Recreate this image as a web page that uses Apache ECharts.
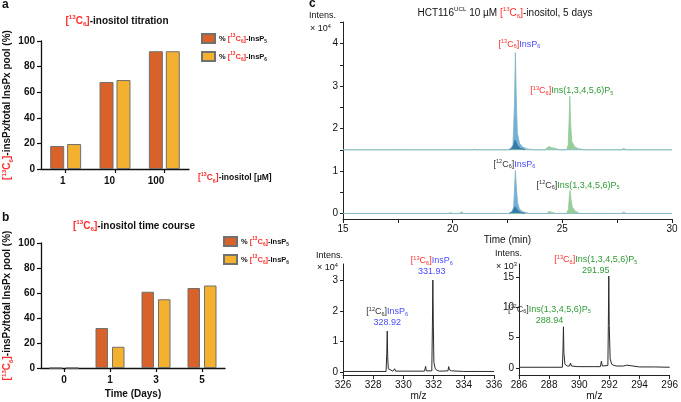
<!DOCTYPE html>
<html><head><meta charset="utf-8">
<script src="https://cdn.jsdelivr.net/npm/echarts@6/dist/echarts.min.js"></script>
<style>html,body{margin:0;padding:0;background:#fff}#c{width:681px;height:402px}</style>
</head><body><div id="c"></div>
<script>
// ---------- data ----------
const A_CATS = ['1', '10', '100'];
const A_P5 = [18, 68, 92];
const A_P6 = [19.5, 69.5, 92];
const B_CATS = ['0', '1', '3', '5'];
const B_P5 = [0, 32, 61, 64];
const B_P6 = [0, 17, 55, 66];

// chromatogram (x10^4), upper trace sits on offset baseline 1.5
const TOP_X_LABELS = [15, 20, 25, 30];
const TOP_X_TICKS = [15, 17.5, 20, 22.5, 25, 27.5, 30];
const TOP_Y_LABELS = [0, 1, 2, 3, 4];
const TOP_Y_TICKS = [0, 0.5, 1, 1.5, 2, 2.5, 3, 3.5, 4, 4.5];
const UP_P5 = [[15,1.5],[17.5,1.5],[17.6,1.51],[17.7,1.5],[24.2,1.5],[24.3,1.54],[24.4,1.58],[24.5,1.55],[24.7,1.53],[24.9,1.5],[25.2,1.5],[25.27,1.62],[25.31,2.2],[25.34,2.76],[25.38,2.1],[25.43,1.7],[25.55,1.58],[25.7,1.53],[26.0,1.5],[30,1.5]];
const UP_P6 = [[15,1.5],[20.9,1.5],[21.0,1.51],[21.1,1.5],[22.5,1.5],[22.65,1.53],[22.75,1.62],[22.82,2.6],[22.86,3.79],[22.9,2.7],[22.95,1.9],[23.05,1.65],[23.2,1.56],[23.4,1.52],[23.7,1.5],[27.7,1.5],[27.8,1.53],[27.9,1.5],[30,1.5]];
const UP_P6_INNER = [[22.6,1.5],[22.75,1.56],[22.85,1.73],[22.95,1.6],[23.1,1.53],[23.3,1.5]];
const LO_P5 = [[15,0],[19.8,0],[19.9,0.02],[20.0,0],[20.3,0],[20.4,0.04],[20.5,0],[24.3,0],[24.4,0.05],[24.5,0.03],[24.7,0],[25.2,0],[25.28,0.1],[25.32,0.4],[25.35,0.54],[25.39,0.35],[25.45,0.15],[25.6,0.05],[25.8,0],[30,0]];
const LO_P6 = [[15,0],[22.55,0],[22.7,0.04],[22.78,0.15],[22.83,0.7],[22.86,1.01],[22.9,0.65],[22.96,0.25],[23.05,0.1],[23.2,0.04],[23.5,0],[27.7,0],[27.8,0.03],[27.9,0],[30,0]];
const LO_P6_INNER = [[22.6,0],[22.75,0.06],[22.85,0.16],[22.95,0.08],[23.1,0.02],[23.3,0]];

// mass spectra
const MS6_X_LABELS = ['326', '328', '330', '332', '334', '336'];
const MS6_Y_LABELS = [0, 1, 2, 3];
const MS6 = [[326,0.01],[327,0.01],[328,0.01],[328.85,0.01],[328.9,0.6],[328.93,1.34],[328.96,0.5],[329.0,0.1],[329.1,0.04],[329.3,0.02],[329.42,0.1],[329.48,0.02],[329.9,0.02],[329.95,0.07],[330.0,0.02],[331.4,0.02],[331.47,0.18],[331.52,0.03],[331.88,0.03],[331.92,1.5],[331.95,3.02],[331.98,1.6],[332.02,0.3],[332.1,0.12],[332.2,0.05],[332.4,0.02],[332.95,0.03],[333.0,0.17],[333.05,0.06],[333.2,0.03],[334,0.01],[335,0.01],[336,0.01]];
const MS5_X_LABELS = ['286', '288', '390', '292', '294', '296'];
const MS5_Y_LABELS = [0, 5, 10, 15];
const MS5 = [[286,0.1],[288,0.1],[288.88,0.1],[288.92,3],[288.95,6.8],[288.98,2.5],[289.05,0.6],[289.2,0.3],[289.35,0.3],[289.42,0.8],[289.48,0.3],[289.9,0.2],[289.98,0.4],[290.05,0.2],[290.85,0.2],[290.92,0.5],[291.0,0.2],[291.4,0.2],[291.47,1.1],[291.53,0.3],[291.9,0.4],[291.93,7],[291.96,15.2],[291.99,7],[292.05,1.5],[292.15,0.6],[292.3,0.4],[292.5,0.3],[292.95,0.3],[293.0,0.6],[293.08,0.3],[293.15,0.45],[293.22,0.25],[294,0.15],[295,0.15],[295.05,0.25],[295.1,0.15],[296,0.1]];

// ---------- styling ----------
const FONT = "'Liberation Sans', Arial, Helvetica, sans-serif";
const RED = '#ff2d2d', BLUE = '#4a4cff', GREEN = '#2f9a36', INK = '#111', GRAY12 = '#333';
const ORANGE = '#d9612a', YELLOW = '#f4b12f';

function mkRich(size, weight, lh) {
  const s = Math.round(size * 0.62 * 10) / 10;
  const cols = {k: INK, r: RED, b: BLUE, g: GREEN, m: GRAY12};
  const o = {};
  const L = lh || size + 3;
  for (const k in cols) {
    const c = cols[k];
    o[k] = {color: c, fill: c, fontSize: size, fontWeight: weight, fontFamily: FONT, lineHeight: L};
    o[k + 'p'] = {color: c, fill: c, fontSize: s, fontWeight: weight, fontFamily: FONT, lineHeight: s + 1, verticalAlign: 'top'};
    o[k + 'd'] = {color: c, fill: c, fontSize: s, fontWeight: weight, fontFamily: FONT, lineHeight: s + 1, verticalAlign: 'bottom'};
  }
  return o;
}
const C13 = '{r|[}{rp|13}{r|C}{rd|6}{r|]}';
const C12 = '{m|[}{mp|12}{m|C}{md|6}{m|]}';
const P6 = '{b|InsP}{bd|6}';
const P5 = '{g|Ins(1,3,4,5,6)P}{gd|5}';

const R10B = mkRich(10, 'bold');
const R85B = mkRich(8.5, 'bold');
const R75B = mkRich(7.5, 'bold');
const R10 = mkRich(10, 'normal');
const R9 = mkRich(9, 'normal', 11);

function barAxisX(idx, cats, align) {
  return {gridIndex: idx, type: 'category', data: cats,
    axisLine: {show: true, lineStyle: {color: '#111', width: 1.3}},
    axisTick: {show: true, alignWithLabel: true, length: 4, lineStyle: {color: '#111', width: 1.2}},
    axisLabel: {margin: 7, fontFamily: FONT, fontSize: 10, fontWeight: 'bold', color: INK, align: align}};
}
function barAxisY(idx) {
  return {gridIndex: idx, type: 'value', min: 0, max: 100, interval: 20,
    name: C13 + '{k|-insPx/total InsPx pool (%)}', nameLocation: 'middle', nameGap: 27,
    nameTextStyle: {rich: R10B},
    splitLine: {show: false},
    axisLine: {show: true, lineStyle: {color: '#111', width: 1.3}},
    axisTick: {show: true, length: 4, lineStyle: {color: '#111', width: 1.2}},
    axisLabel: {margin: 6, fontFamily: FONT, fontSize: 10, fontWeight: 'bold', color: INK}};
}
const thin = {color: '#222', width: 1};
function specX(idx, min, max, labels, name, gap) {
  return {gridIndex: idx, type: 'value', min: min, max: max, interval: 2,
    name: name, nameLocation: 'middle', nameGap: gap,
    nameTextStyle: {fontFamily: FONT, fontSize: 10, color: INK},
    splitLine: {show: false},
    axisLine: {show: true, onZero: false, lineStyle: thin},
    axisTick: {show: true, length: 4, lineStyle: thin},
    axisLabel: {margin: 5, fontFamily: FONT, fontSize: 10, color: INK,
      formatter: v => labels[Math.round((v - min) / 2)]}};
}
function specY(idx, min, max, labels, ticks) {
  return {gridIndex: idx, type: 'value', min: min, max: max,
    splitLine: {show: false},
    axisLine: {show: true, onZero: false, lineStyle: thin},
    axisTick: {show: true, length: 3, lineStyle: thin, customValues: ticks || labels},
    axisLabel: {margin: 5, fontFamily: FONT, fontSize: 10, color: INK, customValues: labels}};
}
function barSeries(name, x, data, color, w, gap) {
  return {type: 'bar', name: name, xAxisIndex: x, yAxisIndex: x, data: data, barWidth: w, barGap: gap,
    itemStyle: {color: color, borderColor: '#707070', borderWidth: 1}, animation: false};
}
function trace(name, data, color, op, lineColor, origin, mp) {
  const s = {type: 'line', name: name, xAxisIndex: 2, yAxisIndex: 2, data: data, symbol: 'none', showSymbol: false,
    lineStyle: {color: lineColor, width: 0.8}, areaStyle: {color: color, opacity: op, origin: origin}, animation: false, z: 3};
  if (mp) s.markPoint = mp;
  return s;
}
function mpoints(items, rich) {
  return {symbol: 'circle', symbolSize: 0, itemStyle: {color: 'transparent'}, silent: true, animation: false,
    data: items.map(it => ({coord: it[0], label: {show: true, position: 'top', distance: it[3], offset: [it[2], 0],
      formatter: it[1], rich: rich}}))};
}
function plain(id, x, y, text, color) {
  return {type: 'text', id: id, x: x, y: y, z: 50, silent: true,
    style: {text: text, fill: color || INK, font: '9px ' + FONT, align: 'left', verticalAlign: 'middle'}};
}
function txt(id, x, y, text, rich, align) {
  return {type: 'text', id: id, x: x, y: y, z: 50, silent: true,
    style: {text: text, rich: rich, align: align || 'left', verticalAlign: 'middle'}};
}

const option = {
  animation: false,
  backgroundColor: '#fff',
  grid: [
    {left: 41, top: 41, width: 148, height: 128},
    {left: 41, top: 243, width: 184, height: 125},
    {left: 343, top: 22, width: 329, height: 197},
    {left: 343, top: 264, width: 151, height: 114.5},
    {left: 519, top: 264, width: 154, height: 114.5}
  ],
  xAxis: [
    barAxisX(0, A_CATS, 'right'),
    Object.assign(barAxisX(1, B_CATS, 'center'), {name: 'Time (Days)', nameLocation: 'middle', nameGap: 21,
      nameTextStyle: {fontFamily: FONT, fontSize: 10, fontWeight: 'bold', color: INK}}),
    {gridIndex: 2, type: 'value', min: 15, max: 30, name: 'Time (min)', nameLocation: 'middle', nameGap: 16,
      nameTextStyle: {fontFamily: FONT, fontSize: 10, color: INK}, splitLine: {show: false},
      axisLine: {show: true, onZero: false, lineStyle: thin},
      axisTick: {show: true, length: 4, lineStyle: thin, customValues: TOP_X_TICKS},
      axisLabel: {margin: 5, fontFamily: FONT, fontSize: 10, color: INK, customValues: TOP_X_LABELS}},
    specX(3, 326, 336, MS6_X_LABELS, 'm/z', 14),
    specX(4, 286, 296, MS5_X_LABELS, 'm/z', 14)
  ],
  yAxis: [
    barAxisY(0), barAxisY(1),
    specY(2, -0.13, 4.51, TOP_Y_LABELS, TOP_Y_TICKS),
    specY(3, -0.11, 3.55, MS6_Y_LABELS),
    specY(4, -1.2, 17.2, MS5_Y_LABELS)
  ],
  legend: [0, 1].map(i => ({
    data: ['InsP5', 'InsP6'], orient: 'vertical', left: i ? 223 : 201, top: i ? 236 : 33, padding: 0,
    itemWidth: 13, itemHeight: 9, itemGap: 7, icon: 'rect', selectedMode: false,
    formatter: n => '{k|% }' + C13 + (n === 'InsP5' ? '{k|-InsP}{kd|5}' : '{k|-InsP}{kd|6}'),
    textStyle: {rich: R75B, fontSize: 7.5, fontWeight: 'bold', fontFamily: FONT, padding: [0, 0, 0, -1]}
  })),
  series: [
    barSeries('InsP5', 0, A_P5, ORANGE, 14, '21%'),
    barSeries('InsP6', 0, A_P6, YELLOW, 14, '21%'),
    barSeries('InsP5', 1, B_P5, ORANGE, 12.5, '32%'),
    barSeries('InsP6', 1, B_P6, YELLOW, 12.5, '32%'),
    trace('upP5', UP_P5, '#86c684', 0.85, '#8fc99a', 1.5,
      mpoints([[[25.34, 2.76], C13 + P5, 2, 0]], R9)),
    trace('upP6', UP_P6, '#5aa2cf', 0.85, '#7fb2c9', 1.5,
      mpoints([[[22.86, 3.79], C13 + P6, 4, 3]], R9)),
    trace('upP6i', UP_P6_INNER, '#2d75a5', 0.9, '#2d75a5', 1.5),
    trace('loP5', LO_P5, '#86c684', 0.85, '#8fc99a', 0,
      mpoints([[[25.35, 0.54], C12 + P5, 8, 0]], R9)),
    trace('loP6', LO_P6, '#5aa2cf', 0.85, '#7fb2c9', 0,
      mpoints([[[22.86, 1.01], C12 + P6, -1, 1]], R9)),
    trace('loP6i', LO_P6_INNER, '#2d75a5', 0.9, '#2d75a5', 0),
    {type: 'line', name: 'ms6', xAxisIndex: 3, yAxisIndex: 3, data: MS6, symbol: 'none',
      lineStyle: {color: '#2a2a2a', width: 1}, animation: false,
      markPoint: mpoints([[[328.93, 1.34], C12 + P6 + '\n{b|328.92}', 0, 3], [[331.95, 3.02], C13 + P6 + '\n{b|331.93}', -1, 3]], R9)},
    {type: 'line', name: 'ms5', xAxisIndex: 4, yAxisIndex: 4, data: MS5, symbol: 'none',
      lineStyle: {color: '#2a2a2a', width: 1}, animation: false,
      markPoint: mpoints([[[288.95, 6.8], C12 + P5 + '\n{g|288.94}', -14, 1], [[291.96, 15.2], C13 + P5 + '\n{g|291.95}', -13, 0]], R9)}
  ],
  graphic: [
    {type: 'text', id: 'la', x: 2, y: 5, style: {text: 'a', font: 'bold 12px ' + FONT, fill: INK, verticalAlign: 'middle'}},
    {type: 'text', id: 'lb', x: 2, y: 218, style: {text: 'b', font: 'bold 12px ' + FONT, fill: INK, verticalAlign: 'middle'}},
    {type: 'text', id: 'lc', x: 309, y: 4, style: {text: 'c', font: 'bold 12px ' + FONT, fill: INK, verticalAlign: 'middle'}},
    txt('ta', 117, 21, C13 + '{k|-inositol titration}', R10B, 'center'),
    txt('tb', 134, 226, C13 + '{k|-inositol time course}', R10B, 'center'),
    txt('xa', 198, 178, C13 + '{k|-inositol [µM]}', R85B, 'left'),
    txt('tc', 505, 13, '{k|HCT116}{kp|UCL}{k| 10 µM }' + C13 + '{k|-inositol, 5 days}', R10, 'center'),
    plain('i1', 309, 16, 'Intens.'),
    txt('x1', 310, 29, '{k|× 10}{kp|4}', R9),
    plain('i2', 316, 256, 'Intens.'),
    txt('x2', 317, 268, '{k|× 10}{kp|4}', R9),
    plain('i3', 495, 254, 'Intens.'),
    txt('x3', 496, 267, '{k|× 10}{kp|3}', R9)
  ]
};
const chart = echarts.init(document.getElementById('c'), null, {renderer: 'canvas'});
chart.setOption(option);
</script></body></html>
